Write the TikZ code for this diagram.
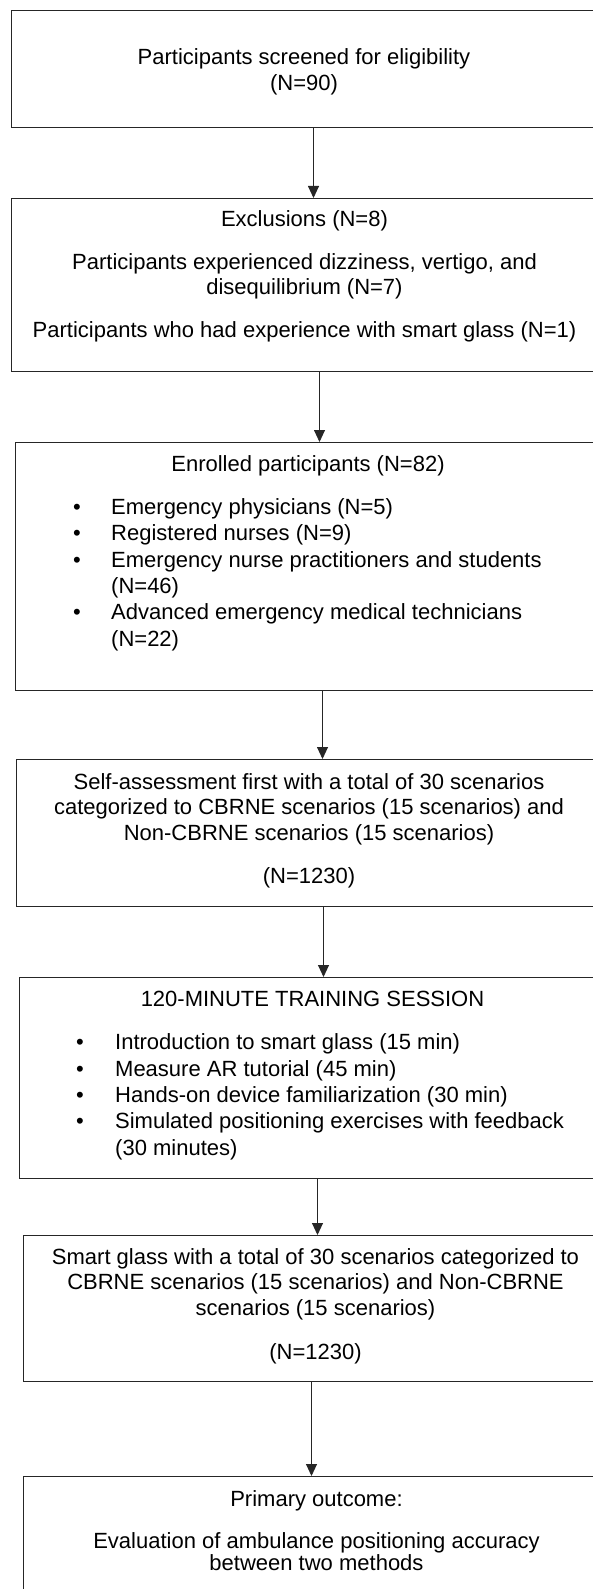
\documentclass[tikz,border=0pt]{standalone}
\usepackage{fontspec}
\setmainfont{Liberation Sans}
\usetikzlibrary{arrows.meta, positioning, calc}

\begin{document}
\begin{tikzpicture}[x=1pt, y=-1pt,
    box/.style={draw=black!85, line width=1pt, anchor=north west, inner sep=0pt},
    txt/.style={anchor=base, align=center, inner sep=0pt, font=\fontsize{22}{25.5}\selectfont},
    lst/.style={anchor=base west, align=left, inner sep=0pt, font=\fontsize{22}{26.3}\selectfont},
    arr/.style={-{Triangle[length=12pt, width=11pt]}, line width=0.9pt, black!85}]
  \useasboundingbox (0,0) rectangle (593,1589);
  \clip (0,0) rectangle (593,1589);

  % boxes
  \node[box, minimum width=585pt, minimum height=117pt] (b1) at (11,10) {};
  \node[box, minimum width=586pt, minimum height=173pt] (b2) at (11,198) {};
  \node[box, minimum width=585pt, minimum height=248pt] (b3) at (15,442) {};
  \node[box, minimum width=585pt, minimum height=147pt] (b4) at (16,759) {};
  \node[box, minimum width=586pt, minimum height=201pt] (b5) at (19,977) {};
  \node[box, minimum width=584pt, minimum height=146pt] (b6) at (23,1235) {};
  \node[box, minimum width=586pt, minimum height=150pt] (b7) at (23,1476) {};

  % texts (placed by the baseline of their last line)
  \node[txt, font=\fontsize{22}{26.5}\selectfont] (t1) at ($(b1.north)+(0,81)$)
    {Participants screened for eligibility\\(N=90)};
  \node[txt, font=\fontsize{22}{24.5}\selectfont] (t2) at ($(b2.north)+(0,139)$)
    {Exclusions (N=8)\\[18.5pt]
     Participants experienced dizziness, vertigo, and\\disequilibrium (N=7)\\[18.5pt]
     Participants who had experience with smart glass (N=1)};
  \node[txt] (t3) at ($(b3.north)+(0,29)$) {Enrolled participants (N=82)};
  \node[lst] (l3) at ($(b3.north west)+(58,204)$)
    {\makebox[38pt][l]{\textbullet}Emergency physicians (N=5)\\
     \makebox[38pt][l]{\textbullet}Registered nurses (N=9)\\
     \makebox[38pt][l]{\textbullet}Emergency nurse practitioners and students\\
     \hspace*{38pt}(N=46)\\
     \makebox[38pt][l]{\textbullet}Advanced emergency medical technicians\\
     \hspace*{38pt}(N=22)};
  \node[txt] (t4) at ($(b4.north)+(0,124)$)
    {Self-assessment first with a total of 30 scenarios\\
     categorized to CBRNE scenarios (15 scenarios) and\\
     Non-CBRNE scenarios (15 scenarios)\\[17.5pt](N=1230)};
  \node[txt] (t5) at ($(b5.north)+(0,29)$) {120-MINUTE TRAINING SESSION};
  \node[lst] (l5) at ($(b5.north west)+(57,178)$)
    {\makebox[39pt][l]{\textbullet}Introduction to smart glass (15 min)\\
     \makebox[39pt][l]{\textbullet}Measure AR tutorial (45 min)\\
     \makebox[39pt][l]{\textbullet}Hands-on device familiarization (30 min)\\
     \makebox[39pt][l]{\textbullet}Simulated positioning exercises with feedback\\
     \hspace*{39pt}(30 minutes)};
  \node[txt] (t6) at ($(b6.north)+(0,124)$)
    {Smart glass with a total of 30 scenarios categorized to\\
     CBRNE scenarios (15 scenarios) and Non-CBRNE\\
     scenarios (15 scenarios)\\[18.5pt](N=1230)};
  \node[txt, font=\fontsize{22}{20.5}\selectfont] (t7) at ($(b7.north)+(0,94)$)
    {Primary outcome:\\[21pt]
     Evaluation of ambulance positioning accuracy\\between two methods};

  % arrows
  \foreach \i/\j/\dx in {1/2/9.5, 2/3/15, 3/4/14.5, 4/5/14.5, 5/6/5, 6/7/-4} {
    \coordinate (a\i) at ($(b\i.south)+(\dx,0)$);
    \draw[arr] (a\i) -- (a\i |- b\j.north);
  }
\end{tikzpicture}
\end{document}
